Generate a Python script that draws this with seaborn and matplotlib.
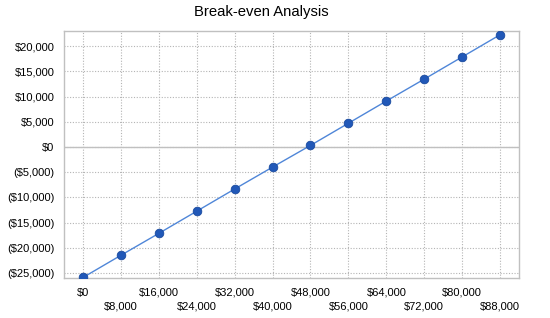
import matplotlib
matplotlib.use("Agg")
import matplotlib.pyplot as plt
import seaborn as sns
import pandas as pd
from matplotlib.ticker import FuncFormatter

sales = [0, 8000, 16000, 24000, 32000, 40000, 48000, 56000, 64000, 72000, 80000, 88000]
profit = [-25900, -21500, -17150, -12750, -8350, -4000, 300, 4700, 9100, 13450, 17850, 22250]
y_ticks = [-25000, -20000, -15000, -10000, -5000, 0, 5000, 10000, 15000, 20000]
title = "Break-even Analysis"

df = pd.DataFrame({"sales": sales, "profit": profit})

sns.set_style("white")
plt.rcParams['font.family'] = ['Liberation Sans', 'DejaVu Sans']
plt.rcParams['text.color'] = 'black'

fig = plt.figure(figsize=(5.5, 3.18), dpi=100)
ax = fig.add_axes([64/550, 1 - 278/318, (519-64)/550, (278-31)/318])

sns.lineplot(data=df, x="sales", y="profit", ax=ax, color="#4f86d8", linewidth=1,
             marker="o", markersize=6.2, markerfacecolor="#2158b8",
             markeredgecolor="#1a4a9e", markeredgewidth=0.6, zorder=3)

ax.set_xlim(-4000, 92000)
ax.set_ylim(-26000, 23000)
ax.set_xticks(sales)
ax.set_yticks(y_ticks)

def money(v):
    v = int(round(v))
    if v < 0:
        return "(${:,})".format(-v)
    return "${:,}".format(v)

ax.set_xticklabels([money(s) if i % 2 == 0 else "\n" + money(s) for i, s in enumerate(sales)],
                   linespacing=1.5)
ax.yaxis.set_major_formatter(FuncFormatter(lambda v, p: money(v)))

ax.grid(True, color="#b4b4b4", linestyle=(0, (1, 1.5)), linewidth=0.8)
ax.axhline(0, color="#c0c0c0", linewidth=1, zorder=1)
for s in ax.spines.values():
    s.set_color("#c0c0c0")
    s.set_linewidth(1)

ax.tick_params(axis="both", length=4, width=0.8, color="#b4b4b4", labelsize=8,
               labelcolor="#000000", pad=3)
ax.set_xlabel("")
ax.set_ylabel("")
fig.text(261/550, 1 - 12/318, title, ha="center", va="center", fontsize=10.7, color="black")

fig.savefig("out.png", dpi=100)
